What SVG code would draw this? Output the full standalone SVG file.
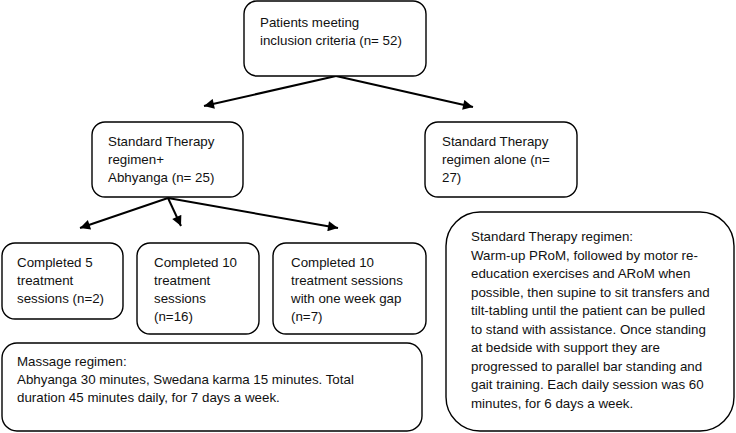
<svg xmlns="http://www.w3.org/2000/svg" width="736" height="433" viewBox="0 0 736 433">
<defs>
<marker id="ah" viewBox="0 0 10 10" refX="10" refY="5" markerWidth="11" markerHeight="10" markerUnits="userSpaceOnUse" orient="auto">
<path d="M0,0 L10,5 L0,10 z" fill="#000"/>
</marker>
<style>
.box{fill:#fff;stroke:#000;stroke-width:1.4}
.t{font-family:"Liberation Sans",Arial,sans-serif;font-size:13.33px;fill:#111}
.c{stroke:#000;stroke-width:2;fill:none;marker-end:url(#ah)}
</style>
</defs>
<rect width="736" height="433" fill="#fff"/>
<g id="connectors">
<line class="c" x1="336" y1="76" x2="204" y2="106"/>
<line class="c" x1="336" y1="76" x2="473" y2="107"/>
<line class="c" x1="168" y1="198" x2="80" y2="228"/>
<line class="c" x1="168" y1="198" x2="181" y2="226"/>
<line class="c" x1="168" y1="198" x2="338" y2="228"/>
</g>
<g id="n-patients">
<rect class="box" x="244" y="1" width="182" height="75" rx="13"/>
<text class="t" x="260" y="27">Patients meeting</text>
<text class="t" x="260" y="45">inclusion criteria (n= 52)</text>
</g>
<g id="n-abhyanga">
<rect class="box" x="92" y="122" width="151" height="75" rx="13"/>
<text class="t" x="108" y="146">Standard Therapy</text>
<text class="t" x="108" y="164">regimen+</text>
<text class="t" x="108" y="182">Abhyanga (n= 25)</text>
</g>
<g id="n-alone">
<rect class="box" x="425" y="122" width="152" height="75" rx="13"/>
<text class="t" x="442" y="146">Standard Therapy</text>
<text class="t" x="442" y="164">regimen alone (n=</text>
<text class="t" x="442" y="182">27)</text>
</g>
<g id="n-5sessions">
<rect class="box" x="2" y="243" width="121" height="76" rx="13"/>
<text class="t" x="17" y="267">Completed 5</text>
<text class="t" x="17" y="285">treatment</text>
<text class="t" x="17" y="303">sessions (n=2)</text>
</g>
<g id="n-10sessions">
<rect class="box" x="137" y="243" width="122" height="91" rx="13"/>
<text class="t" x="154" y="267">Completed 10</text>
<text class="t" x="154" y="285">treatment</text>
<text class="t" x="154" y="303">sessions</text>
<text class="t" x="154" y="321">(n=16)</text>
</g>
<g id="n-10gap">
<rect class="box" x="273" y="243" width="153" height="91" rx="13"/>
<text class="t" x="291" y="267">Completed 10</text>
<text class="t" x="291" y="285">treatment sessions</text>
<text class="t" x="291" y="303">with one week gap</text>
<text class="t" x="291" y="321">(n=7)</text>
</g>
<g id="n-massage">
<rect class="box" x="2" y="343" width="420" height="88" rx="15"/>
<text class="t" x="17" y="366">Massage regimen:</text>
<text class="t" x="17" y="384">Abhyanga 30 minutes, Swedana karma 15 minutes. Total</text>
<text class="t" x="17" y="402">duration 45 minutes daily, for 7 days a week.</text>
</g>
<g id="n-standard">
<rect class="box" x="446" y="212" width="288" height="219" rx="34"/>
<text class="t" x="471" y="241">Standard Therapy regimen:</text>
<text class="t" x="471" y="259.5">Warm-up PRoM, followed by motor re-</text>
<text class="t" x="471" y="278">education exercises and ARoM when</text>
<text class="t" x="471" y="296.5">possible, then supine to sit transfers and</text>
<text class="t" x="471" y="315">tilt-tabling until the patient can be pulled</text>
<text class="t" x="471" y="333.5">to stand with assistance. Once standing</text>
<text class="t" x="471" y="352">at bedside with support they are</text>
<text class="t" x="471" y="370.5">progressed to parallel bar standing and</text>
<text class="t" x="471" y="389">gait training. Each daily session was 60</text>
<text class="t" x="471" y="407.5">minutes, for 6 days a week.</text>
</g>
</svg>
